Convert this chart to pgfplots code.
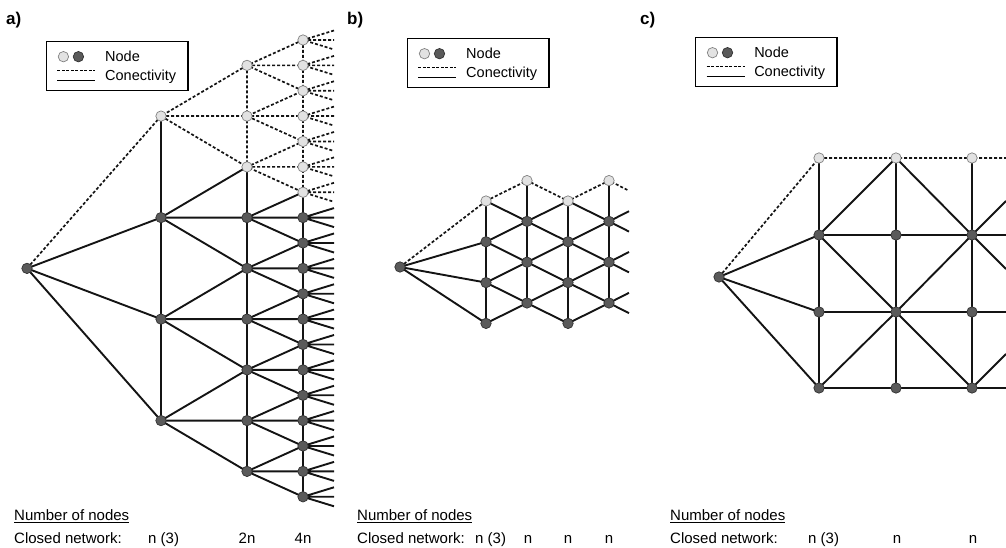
\documentclass[border=0pt]{standalone}
\usepackage{fontspec}
\setmainfont{Liberation Sans}
\usepackage{pgfplots}
\pgfplotsset{compat=1.18}
\definecolor{lightnode}{RGB}{226,226,226}
\definecolor{lightedge}{RGB}{130,130,130}
\definecolor{darknode}{RGB}{90,90,90}
\definecolor{darkedge}{RGB}{50,50,50}
\definecolor{linec}{RGB}{20,20,20}
\newcommand\tf{\fontsize{15}{17}\selectfont}
\pgfplotsset{
 net/.style={width=1006pt,height=548pt,scale only axis,xmin=0,xmax=1006,ymin=-548,ymax=0,
   axis lines=none,ticks=none,enlargelimits=false,unbounded coords=jump,clip=true,
   at={(0pt,0pt)},anchor=south west},
 sol/.style={forget plot,no markers,color=linec,line width=1.9pt,line join=round},
 dsh/.style={forget plot,no markers,color=linec,line width=1.7pt,dash pattern=on 3pt off 2pt},
 lnode/.style={forget plot,only marks,mark=*,mark size=5.2pt,mark options={fill=lightnode,draw=lightedge,line width=0.7pt,solid}},
 dnode/.style={forget plot,only marks,mark=*,mark size=5.2pt,mark options={fill=darknode,draw=darkedge,line width=0.7pt,solid}},
 netlegend/.style={legend style={at={#1},anchor=north west,draw=black,line width=1.4pt,fill=white,
   font=\fontsize{14.5}{16}\selectfont,inner xsep=10pt,inner ysep=7pt,column sep=7pt,row sep=3pt},
   legend cell align=left},
}
\newcommand\netlegendentries{%
 \addlegendimage{legend image code/.code={
   \draw[line width=0.7pt,draw=lightedge,fill=lightnode] (6pt,0pt) circle (5.2pt);
   \draw[line width=0.7pt,draw=darkedge,fill=darknode] (21pt,0pt) circle (5.2pt);
   \path[draw=none,fill=none] (0pt,0pt) -- (38pt,0pt);}}
 \addlegendentry{Node}
 \addlegendimage{legend image code/.code={
   \draw[black,line width=1.5pt,dash pattern=on 3pt off 1.5pt] (0pt,5pt) -- (38pt,5pt);
   \draw[black,line width=1.5pt,solid] (0pt,-5pt) -- (38pt,-5pt);}}
 \addlegendentry{Conectivity}}
\begin{document}
\begin{tikzpicture}
% ---------------- panel a ----------------
\begin{axis}[net,netlegend={(axis description cs:0.0457,0.9252)}]
\netlegendentries
\addplot[dsh] coordinates {
(27,-268.4)(161,-116.1) (nan,nan)
(247,-65.4)(161,-116.1)(247,-166.9) (nan,nan)
(247,-65.4)(247,-166.9) (nan,nan)
(303,-40)(247,-65.4)(303,-90.8)(247,-116.1)(303,-141.5)(247,-166.9)(303,-192.3) (nan,nan)
(303,-40)(303,-192.3) (nan,nan)
(161,-116.1)(334,-116.1) (nan,nan)
(247,-65.4)(334,-65.4) (nan,nan)
(247,-166.9)(334,-166.9) (nan,nan)
(303,-40)(334,-40) (nan,nan)
(303,-90.8)(334,-90.8) (nan,nan)
(303,-141.5)(334,-141.5) (nan,nan)
(303,-192.3)(334,-192.3) (nan,nan)
(334,-30.5)(303,-40)(334,-49.5) (nan,nan)
(334,-55.9)(303,-65.4)(334,-74.9) (nan,nan)
(334,-81.3)(303,-90.8)(334,-100.3) (nan,nan)
(334,-106.6)(303,-116.1)(334,-125.6) (nan,nan)
(334,-132)(303,-141.5)(334,-151) (nan,nan)
(334,-157.4)(303,-166.9)(334,-176.4) (nan,nan)
(334,-182.8)(303,-192.3)(334,-201.8)
};
\addplot[sol] coordinates {
(27,-268.4)(161,-217.6) (nan,nan)
(27,-268.4)(161,-319.1) (nan,nan)
(27,-268.4)(161,-420.6) (nan,nan)
(161,-116.1)(161,-420.6) (nan,nan)
(247,-166.9)(161,-217.6)(247,-268.4)(161,-319.1)(247,-369.9)(161,-420.6)(247,-471.4) (nan,nan)
(247,-166.9)(247,-471.4) (nan,nan)
(303,-192.3)(247,-217.6)(303,-243)(247,-268.4)(303,-293.8)(247,-319.1)(303,-344.5)(247,-369.9)(303,-395.3)(247,-420.6)(303,-446)(247,-471.4)(303,-496.8) (nan,nan)
(303,-192.3)(303,-496.8) (nan,nan)
(161,-217.6)(334,-217.6) (nan,nan)
(161,-319.1)(334,-319.1) (nan,nan)
(161,-420.6)(334,-420.6) (nan,nan)
(247,-268.4)(334,-268.4) (nan,nan)
(247,-369.9)(334,-369.9) (nan,nan)
(247,-471.4)(334,-471.4) (nan,nan)
(303,-243)(334,-243) (nan,nan)
(303,-293.8)(334,-293.8) (nan,nan)
(303,-344.5)(334,-344.5) (nan,nan)
(303,-395.3)(334,-395.3) (nan,nan)
(303,-446)(334,-446) (nan,nan)
(303,-496.8)(334,-496.8) (nan,nan)
(334,-208.1)(303,-217.6)(334,-227.1) (nan,nan)
(334,-233.5)(303,-243)(334,-252.5) (nan,nan)
(334,-258.9)(303,-268.4)(334,-277.9) (nan,nan)
(334,-284.3)(303,-293.8)(334,-303.3) (nan,nan)
(334,-309.6)(303,-319.1)(334,-328.6) (nan,nan)
(334,-335)(303,-344.5)(334,-354) (nan,nan)
(334,-360.4)(303,-369.9)(334,-379.4) (nan,nan)
(334,-385.8)(303,-395.3)(334,-404.8) (nan,nan)
(334,-411.1)(303,-420.6)(334,-430.1) (nan,nan)
(334,-436.5)(303,-446)(334,-455.5) (nan,nan)
(334,-461.9)(303,-471.4)(334,-480.9) (nan,nan)
(334,-487.3)(303,-496.8)(334,-506.3)
};
\addplot[lnode] coordinates {
(161,-116.1)(247,-65.4)(247,-116.1)(247,-166.9)
(303,-40)(303,-65.4)(303,-90.8)(303,-116.1)(303,-141.5)(303,-166.9)(303,-192.3)};
\addplot[dnode] coordinates {
(27,-268.4)(161,-217.6)(161,-319.1)(161,-420.6)
(247,-217.6)(247,-268.4)(247,-319.1)(247,-369.9)(247,-420.6)(247,-471.4)
(303,-217.6)(303,-243)(303,-268.4)(303,-293.8)(303,-319.1)(303,-344.5)(303,-369.9)
(303,-395.3)(303,-420.6)(303,-446)(303,-471.4)(303,-496.8)};
\node[anchor=base west,inner sep=0pt,font=\bfseries\fontsize{17}{19}\selectfont] at (axis cs:6,-25) {a)};
\node[anchor=base west,inner sep=0pt,font=\tf] at (axis cs:14,-521) {\underline{Number of nodes}};
\node[anchor=base west,inner sep=0pt,font=\tf] at (axis cs:14,-544) {Closed network:};
\node[anchor=base west,inner sep=0pt,font=\tf] at (axis cs:148,-544) {n (3)};
\node[anchor=base,inner sep=0pt,font=\tf] at (axis cs:247,-544) {2n};
\node[anchor=base,inner sep=0pt,font=\tf] at (axis cs:303,-544) {4n};
\end{axis}
% ---------------- panel b ----------------
\begin{axis}[net,netlegend={(axis description cs:0.4046,0.9307)}]
\netlegendentries
\addplot[dsh] coordinates {
(400,-267)(486,-201) (nan,nan)
(486,-201)(527,-180.6)(568,-201)(609,-180.6)(629,-190.8)
};
\addplot[sol] coordinates {
(400,-267)(486,-241.8) (nan,nan)
(400,-267)(486,-282.6) (nan,nan)
(400,-267)(486,-323.4) (nan,nan)
(486,-201)(486,-323.4) (nan,nan)
(527,-180.6)(527,-303) (nan,nan)
(568,-201)(568,-323.4) (nan,nan)
(609,-180.6)(609,-303) (nan,nan)
(486,-201)(527,-221.4)(568,-241.8)(609,-262.2)(629,-272.4) (nan,nan)
(486,-241.8)(527,-262.2)(568,-282.6)(609,-303)(629,-313.2) (nan,nan)
(486,-282.6)(527,-303)(568,-323.4) (nan,nan)
(568,-201)(609,-221.4)(629,-231.6) (nan,nan)
(486,-323.4)(527,-303)(568,-282.6)(609,-262.2)(629,-252) (nan,nan)
(486,-282.6)(527,-262.2)(568,-241.8)(609,-221.4)(629,-211.2) (nan,nan)
(486,-241.8)(527,-221.4)(568,-201) (nan,nan)
(568,-323.4)(609,-303)(629,-292.8)
};
\addplot[lnode] coordinates {(486,-201)(527,-180.6)(568,-201)(609,-180.6)};
\addplot[dnode] coordinates {
(400,-267)(486,-241.8)(486,-282.6)(486,-323.4)(527,-221.4)(527,-262.2)(527,-303)
(568,-241.8)(568,-282.6)(568,-323.4)(609,-221.4)(609,-262.2)(609,-303)};
\node[anchor=base west,inner sep=0pt,font=\bfseries\fontsize{17}{19}\selectfont] at (axis cs:347,-25) {b)};
\node[anchor=base west,inner sep=0pt,font=\tf] at (axis cs:357,-521) {\underline{Number of nodes}};
\node[anchor=base west,inner sep=0pt,font=\tf] at (axis cs:357,-544) {Closed network:};
\node[anchor=base west,inner sep=0pt,font=\tf] at (axis cs:475,-544) {n (3)};
\node[anchor=base,inner sep=0pt,font=\tf] at (axis cs:528,-544) {n};
\node[anchor=base,inner sep=0pt,font=\tf] at (axis cs:568,-544) {n};
\node[anchor=base,inner sep=0pt,font=\tf] at (axis cs:609,-544) {n};
\end{axis}
% ---------------- panel c ----------------
\begin{axis}[net,netlegend={(axis description cs:0.6909,0.9325)}]
\netlegendentries
\addplot[dsh] coordinates {
(719,-277)(819,-158) (nan,nan)
(819,-158)(1006,-158)
};
\addplot[sol] coordinates {
(719,-277)(819,-235) (nan,nan)
(719,-277)(819,-312) (nan,nan)
(719,-277)(819,-388) (nan,nan)
(819,-158)(819,-388) (nan,nan)
(896,-158)(896,-388) (nan,nan)
(972,-158)(972,-388) (nan,nan)
(819,-235)(1006,-235) (nan,nan)
(819,-312)(1006,-312) (nan,nan)
(819,-388)(1006,-388) (nan,nan)
(819,-235)(896,-158)(972,-235)(1006,-269) (nan,nan)
(819,-235)(896,-312)(972,-388)(1006,-354) (nan,nan)
(819,-388)(896,-312)(972,-235)(1006,-201)
};
\addplot[lnode] coordinates {(819,-158)(896,-158)(972,-158)};
\addplot[dnode] coordinates {
(719,-277)(819,-235)(819,-312)(819,-388)(896,-235)(896,-312)(896,-388)
(972,-235)(972,-312)(972,-388)};
\node[anchor=base west,inner sep=0pt,font=\bfseries\fontsize{17}{19}\selectfont] at (axis cs:640,-25) {c)};
\node[anchor=base west,inner sep=0pt,font=\tf] at (axis cs:670,-521) {\underline{Number of nodes}};
\node[anchor=base west,inner sep=0pt,font=\tf] at (axis cs:670,-544) {Closed network:};
\node[anchor=base west,inner sep=0pt,font=\tf] at (axis cs:808,-544) {n (3)};
\node[anchor=base,inner sep=0pt,font=\tf] at (axis cs:897,-544) {n};
\node[anchor=base,inner sep=0pt,font=\tf] at (axis cs:973,-544) {n};
\end{axis}
\pgfresetboundingbox
\path[use as bounding box] (0pt,0pt) rectangle (1006pt,548pt);
\end{tikzpicture}
\end{document}
